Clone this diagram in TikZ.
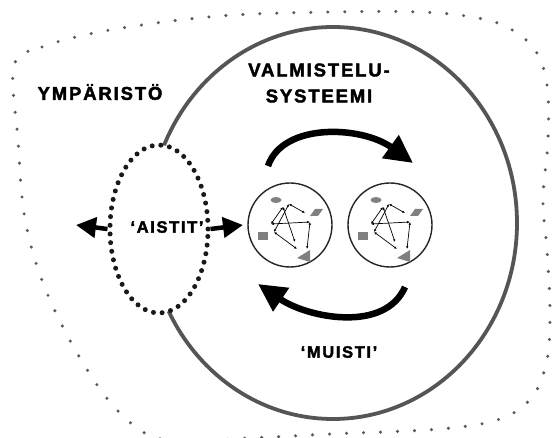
\documentclass[tikz,border=0pt]{standalone}
\usepackage{fontspec}
\usetikzlibrary{arrows.meta,shapes.geometric}
\newfontfamily\headfont[LetterSpace=10,FakeBold=2.2]{Liberation Sans Bold}
\newfontfamily\tagfont[LetterSpace=10,FakeBold=2.2]{Liberation Sans Bold}
\definecolor{rim}{RGB}{85,85,85}
\definecolor{dotgray}{RGB}{90,90,90}
\definecolor{glyphgray}{RGB}{128,128,128}
\tikzset{
  heading/.style={font=\headfont\fontsize{18.5}{20}\selectfont, inner sep=0pt, align=center},
  tagtext/.style={font=\tagfont\fontsize{16.5}{18}\selectfont, inner sep=0pt},
  system/.style={ellipse, draw=rim, line width=3.8pt, inner sep=0pt},
  sense/.style={ellipse, draw=black!90, fill=white, line width=5pt, line cap=round,
                dash pattern=on 0pt off 8.7pt, inner sep=0pt},
  state/.style={circle, draw=black!85, line width=1.4pt, inner sep=0pt, minimum size=84pt},
  envborder/.style={draw=dotgray, line width=3.4pt, line cap=round, dash pattern=on 0pt off 17pt},
  flow/.style={line width=6.5pt, -{Triangle[length=28pt,width=27pt]}},
  senseflow/.style={line width=4.5pt, -{Triangle[length=20pt,width=20pt]}},
  link/.style={line width=0.7pt, {Latex[length=2.8pt,width=2.4pt]}-{Latex[length=2.8pt,width=2.4pt]}},
  pics/net/.style={code={
    \fill[glyphgray] (-14,-25) ellipse [x radius=5.5, y radius=3];
    \fill[glyphgray] (20,-9) -- (25,-16) -- (33,-16) -- (28,-9) -- cycle;
    \fill[glyphgray] (-32,7) rectangle (-22,15);
    \fill[glyphgray] (20,25) -- (20,37) -- (7,33) -- cycle;
    \coordinate (-n1) at (-7,-18);
    \coordinate (-n2) at (-1,-21);
    \coordinate (-n3) at (15,-12);
    \coordinate (-n4) at (20,-3);
    \coordinate (-n5) at (-19,-1);
    \coordinate (-n6) at (-16,7);
    \coordinate (-n7) at (5,17);
    \coordinate (-n8) at (7,24);
    \coordinate (-n9) at (17,24);
    \draw[link] (-n1) -- (-n5);
    \draw[link] (-n2) -- (-n3);
    \draw[link] (-n1) -- (-n7);
    \draw[link] (-n2) -- (-n6);
    \draw[link] (-n4) -- (-n5);
    \draw[link] (-n4) -- (-n9);
    \draw[link] (-n6) -- (-n8);
  }}
}
\begin{document}
\begin{tikzpicture}[x=1pt,y=-1pt]
  \clip (0,0) rectangle (552,438);
  \fill[white] (0,0) rectangle (552,438);

  % dotted environment border
  \draw[envborder] plot[smooth cycle, tension=0.6] coordinates {
    (14,66) (42,47) (110,30) (220,16) (333,12) (420,12) (472,17) (507,27)
    (535,50) (547,85) (548,140) (543,200) (547,250) (550,310) (547,360)
    (532,397) (500,419) (440,429) (330,434) (250,438) (165,440) (120,413)
    (80,358) (45,288) (25,219) (18,140)};

  % preparation system
  \node[system, minimum width=368pt, minimum height=392pt] (sys) at (333,223) {};

  % senses
  \node[sense, minimum width=98pt, minimum height=168pt] (sense) at (159,229) {};
  \node[tagtext] (aistit) at (167,227) {‘AISTIT’};
  \coordinate (outL) at (76,225);
  \coordinate (outR) at (243,225);
  \draw[senseflow] (sense.west) -- (outL);
  \draw[senseflow] (sense.east) -- (outR);

  % internal states
  \node[state] (s1) at (290,225) {};
  \node[state] (s2) at (390,225) {};
  \pic (g1) at (290,225) {net};
  \pic (g2) at (390,225) {net};

  % transitions between states
  \coordinate (t1a) at (268,166);
  \coordinate (t1b) at (413,163);
  \draw[flow] (t1a) .. controls (283,122) and (362,126) .. (t1b);
  \coordinate (t2a) at (405,287);
  \coordinate (t2b) at (258,284);
  \draw[flow] (t2a) .. controls (385,333) and (308,318) .. (t2b);

  % labels
  \node[heading] (env) at (100,92) {YMPÄRISTÖ};
  \node[heading] (title) at (319,83) {VALMISTELU-\\[6pt]SYSTEEMI};
  \node[tagtext] (muisti) at (339,352) {‘MUISTI’};
\end{tikzpicture}
\end{document}
